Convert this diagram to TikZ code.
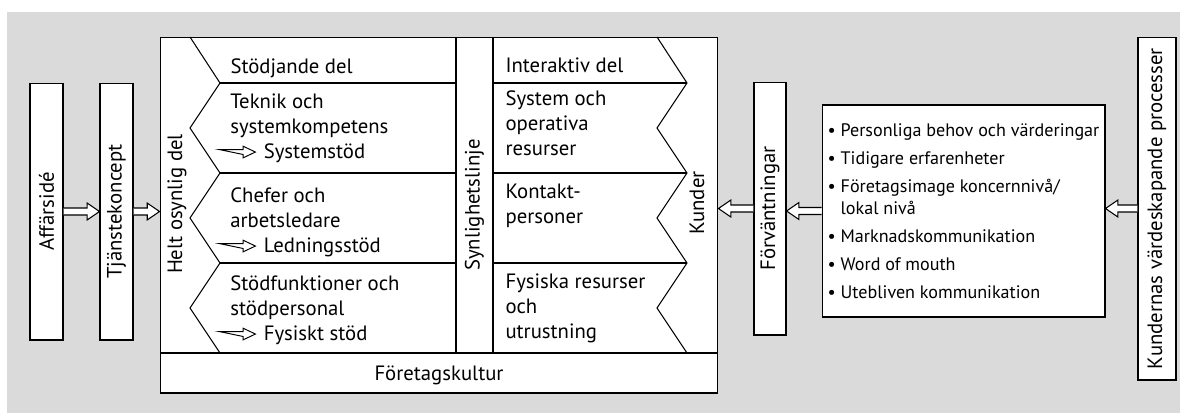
\documentclass[tikz,border=0pt]{standalone}
\usepackage{fontspec}
\setmainfont{PT Sans}
\usetikzlibrary{calc,positioning}
\definecolor{bakgrund}{RGB}{218,218,218}
% hollow block arrow from #1 to #2 (horizontal, at the height of #1)
\newcommand\fatarrow[2]{%
  \draw[line width=.6pt,fill=white] let \p1=(#1),\p2=(#2),\n1={\x2-sign(\x2-\x1)*7pt} in
    (\x1,\y1+2pt)--(\n1,\y1+2pt)--(\n1,\y1+4.8pt)--(\x2,\y1)
    --(\n1,\y1-4.8pt)--(\n1,\y1-2pt)--(\x1,\y1-2pt);}
% small arrow inside the text
\newcommand\txtarrow{\tikz[baseline=-3.4pt]\draw[line width=.55pt,fill=white](0,1.4pt)--(13.5pt,1.4pt)--(13.5pt,3.3pt)--(20.5pt,0)--(13.5pt,-3.3pt)--(13.5pt,-1.4pt)--cycle;}

\begin{document}
\begin{tikzpicture}[x=0.02cm,y=-0.02cm,line width=.6pt,
  font=\fontsize{11.8pt}{14.2pt}\selectfont,
  box/.style={draw,fill=white,inner sep=0pt},
  txt/.style={anchor=base west,align=left,inner sep=0pt}]
\useasboundingbox(0,0)rectangle(1189,413);
\fill[bakgrund](7,12)rectangle(1180,413);
% boxes
\node[box,minimum width=.66cm,minimum height=5.14cm](aff)at(46.5,211.5){\rotatebox{90}{Affärsidé}};
\node[box,minimum width=.66cm,minimum height=5.14cm](tja)at(116.5,211.5){\rotatebox{90}{Tjänstekoncept}};
\node[box,minimum width=11.16cm,minimum height=7.12cm](firm)at(439,215){};
\node[box,minimum width=.64cm,minimum height=5.06cm](forv)at(770,208.5){\rotatebox{90}{Förväntningar}};
\node[box,minimum width=5.66cm,minimum height=4.24cm,align=left,
  font=\fontsize{10.3pt}{12.5pt}\selectfont](expect)at(963.5,211){%
  \textbullet\ Personliga behov och värderingar\\[3.5pt]
  \textbullet\ Tidigare erfarenheter\\[3.5pt]
  \textbullet\ Företagsimage koncernnivå/\\
  \phantom{\textbullet\ }lokal nivå\\[3.5pt]
  \textbullet\ Marknadskommunikation\\[3.5pt]
  \textbullet\ Word of mouth\\[3.5pt]
  \textbullet\ Utebliven kommunikation};
\node[box,minimum width=.76cm,minimum height=6.86cm](kvp)at(1157,208.5){\rotatebox{90}{Kundernas värdeskapande processer}};
% inside the firm
\draw(190,37)--(220,83)--(190,128)--(220,173)--(190,218)--(220,263)--(190,308)--(220,353);
\draw(657,37)--(687,83)--(657,128)--(687,173)--(657,218)--(687,263)--(657,308)--(687,353);
\draw(220,83)--(456,83)(220,173)--(456,173)(220,263)--(456,263);
\draw(493,83)--(687,83)(493,173)--(687,173)(493,263)--(687,263);
\draw(456,37)--(456,353)(493,37)--(493,353);
\draw(160,353)--(718,353);
\node[rotate=90](helt)at(177,204){Helt osynlig del};
\node[rotate=90](synl)at(474.5,205){Synlighetslinje};
\node[rotate=90](kunder)at(697,203){Kunder};
% texts, placed at the baseline of their last line
\node[txt](stod)at(230,73){Stödjande del};
\node[txt](tekn)at(230,158){Teknik och\\systemkompetens\\\hspace*{-6.5pt}\txtarrow\hspace{4.5pt}Systemstöd};
\node[txt](chef)at(230,252){Chefer och\\arbetsledare\\\hspace*{-6.5pt}\txtarrow\hspace{4.5pt}Ledningsstöd};
\node[txt](stodf)at(230,340){Stödfunktioner och\\stödpersonal\\\hspace*{-6.5pt}\txtarrow\hspace{4.5pt}Fysiskt stöd};
\node[txt](inter)at(505,72){Interaktiv del};
\node[txt](syst)at(505,155){System och\\operativa\\resurser};
\node[txt](kont)at(505,223){Kontakt-\\personer};
\node[txt](fys)at(505,338){Fysiska resurser\\och\\utrustning};
\node[anchor=base,inner sep=0pt](kultur)at(439,380){Företagskultur};
% arrows
\fatarrow{aff.east}{tja.west}
\fatarrow{tja.east}{firm.west}
\fatarrow{forv.west}{firm.east}
\fatarrow{expect.west}{forv.east}
\fatarrow{kvp.west}{expect.east}
\end{tikzpicture}
\end{document}
